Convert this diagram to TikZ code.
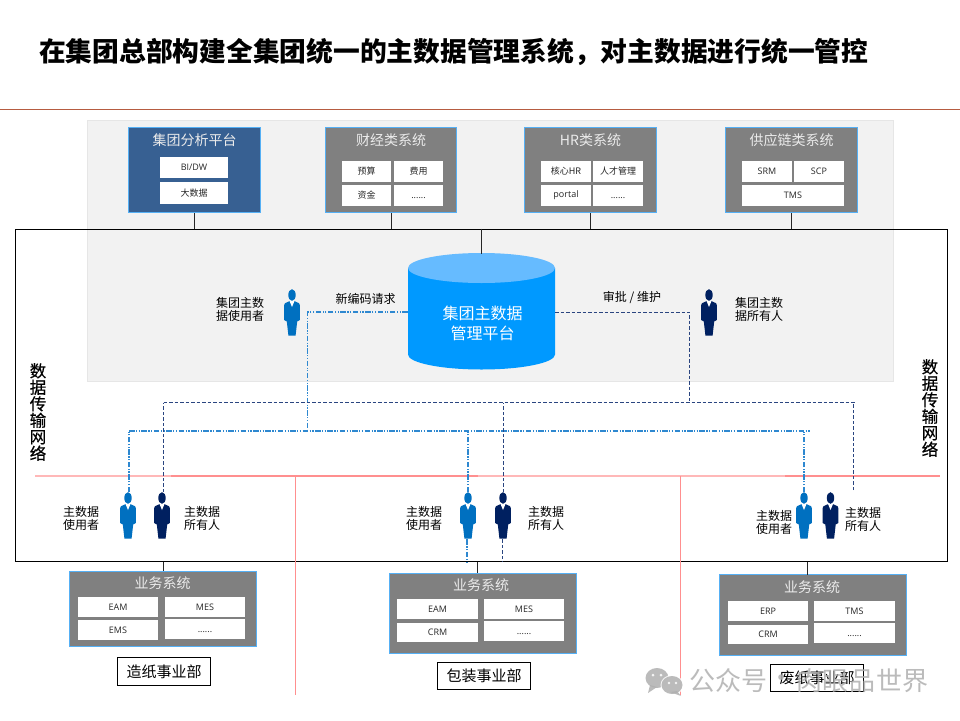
\documentclass[tikz,border=0pt]{standalone}
\usepackage{fontspec}
\setmainfont{Noto Sans CJK SC}
\newfontfamily\latinui{Open Sans}
\usetikzlibrary{calc}

\definecolor{panelgray}{HTML}{F2F2F2}
\definecolor{paneledge}{HTML}{E6E6E6}
\definecolor{boxgray}{HTML}{808080}
\definecolor{boxblue}{HTML}{376092}
\definecolor{boxedge}{HTML}{55B0F5}
\definecolor{dbbody}{HTML}{0099FF}
\definecolor{dbtop}{HTML}{66BBFF}
\definecolor{userblue}{HTML}{0070C0}
\definecolor{ownernavy}{HTML}{002060}
\definecolor{userline}{HTML}{2E88D0}
\definecolor{ownerline}{HTML}{2A4580}
\definecolor{divider}{HTML}{FF8F8F}
\definecolor{dividerpale}{HTML}{FFB8B8}
\definecolor{titlerule}{HTML}{C8502C}
\definecolor{markgray}{HTML}{B0B0B0}

\tikzset{
  x=1pt, y=-1pt,
  sysbox/.style={draw=boxedge, line width=1pt, fill=boxgray, inner sep=0pt},
  cellbox/.style={fill=white, inner sep=0pt, font=\fontsize{9}{11}\selectfont, text=black!85},
  systitle/.style={text=white!92!black, inner sep=0pt, font=\fontsize{14}{16}\selectfont},
  deptbox/.style={draw=black, line width=0.9pt, fill=white, inner sep=0pt, font=\fontsize{15}{18}\selectfont},
  plainlabel/.style={inner sep=0pt, align=center, font=\fontsize{12}{13.6}\selectfont},
  linklabel/.style={inner sep=0pt, font=\fontsize{12}{14}\selectfont},
  sidelabel/.style={inner sep=0pt, align=center, font=\fontsize{16.5}{16.5}\selectfont\addfontfeature{FakeBold=0.6}},
  trunk/.style={draw=black!85, line width=0.9pt},
  userlink/.style={draw=userline, line width=1.1pt, dash pattern=on 5.5pt off 1.5pt on 1.2pt off 1.5pt on 1.2pt off 1.5pt},
  ownerlink/.style={draw=ownerline, line width=1pt, dash pattern=on 3.5pt off 2pt},
  splitline/.style={draw=divider, line width=1.1pt},
  markfont/.style={inner sep=0pt, text=markgray, font=\fontsize{26}{28}\selectfont},
}

% Dotted filler entry, kept on the text baseline
\newcommand{\morecell}{\latinui\vphantom{A}......}

% A named rectangle given by its corners
\newcommand{\rectbox}[7]{%
  \pgfmathsetmacro\rbw{#5-#3}\pgfmathsetmacro\rbh{#6-#4}%
  \node[#2, minimum width=\rbw pt, minimum height=\rbh pt]
    (#1) at ({(#3+#5)/2},{(#4+#6)/2}) {#7};}

% A standing figure in a suit: name, centre x, top y, colour
\newcommand{\suited}[4]{%
  \node[minimum width=16pt, minimum height=47pt, inner sep=0pt, anchor=north] (#1) at (#2,#3) {};
  \begin{scope}[shift={(#2,#3)}]
    \fill[#4] (0,6) ellipse [x radius=3.7pt, y radius=5.8pt];
    \fill[#4] (-2.6,12.2) -- (2.6,12.2) -- (7,14.2) .. controls (7.6,14.6) and (7.8,15) .. (7.8,16)
      -- (7.8,31) -- (5.2,32.5) -- (3.6,46.5) -- (-3.6,46.5) -- (-5.2,32.5) -- (-7.8,31)
      -- (-7.8,16) .. controls (-7.8,15) and (-7.6,14.6) .. (-7,14.2) -- cycle;
    \fill[white] (-2.4,12.2) -- (2.4,12.2) -- (0,18) -- cycle;
  \end{scope}}

\begin{document}
\begin{tikzpicture}
\useasboundingbox (0,0) rectangle (960,720);
\fill[white] (0,0) rectangle (960,720);

% Heading
\node[anchor=west, inner sep=0pt] (heading) at (39,52)
  {\fontsize{26.75}{30}\selectfont\bfseries 在集团总部构建全集团统一的主数据管理系统，对主数据进行统一管控};
\coordinate (ruleL) at (0,109.5);
\coordinate (ruleR) at (960,109.5);
\draw[titlerule!75!gray, line width=0.8pt] (ruleL) -- (ruleR);

% Backdrop and transmission network frame
\draw[paneledge, fill=panelgray, line width=0.8pt] (87,120) rectangle (893,381);
\node[draw=black, line width=1pt, inner sep=0pt, minimum width=932pt, minimum height=332pt] (network) at (481,395) {};

% Business-unit dividers
\draw[dividerpale, line width=1.1pt] (35,476) -- (171,476);
\draw[splitline] (171,476) -- (478,476);
\draw[dividerpale, line width=1.1pt] (478,476) -- (785,476);
\draw[splitline] (785,476) -- (940,476);
\draw[splitline] (295.5,476) -- (295.5,695);
\draw[splitline] (680.5,476) -- (680.5,695);

% Upper application groups
\rectbox{bi}{sysbox, fill=boxblue}{128.5}{127.5}{260.5}{212.5}{}
\node[systitle] (biT) at (194.5,140) {集团分析平台};
\rectbox{biA}{cellbox}{160}{157}{228}{178}{\latinui BI/DW}
\rectbox{biB}{cellbox}{160}{182}{228}{204}{大数据}

\rectbox{fin}{sysbox}{325.5}{127.5}{456.5}{212.5}{}
\node[systitle] (finT) at (391,140) {财经类系统};
\rectbox{finA}{cellbox}{342}{161}{391}{182}{预算}
\rectbox{finB}{cellbox}{394}{161}{443}{182}{费用}
\rectbox{finC}{cellbox}{342}{185}{391}{206}{资金}
\rectbox{finD}{cellbox}{394}{185}{443}{206}{\morecell}

\rectbox{hr}{sysbox}{524.5}{127.5}{656.5}{212.5}{}
\node[systitle] (hrT) at (590.5,140) {HR类系统};
\rectbox{hrA}{cellbox}{541}{161}{591}{182}{核心HR}
\rectbox{hrB}{cellbox}{593}{161}{643}{182}{人才管理}
\rectbox{hrC}{cellbox}{541}{185}{591}{206}{\latinui portal}
\rectbox{hrD}{cellbox}{593}{185}{643}{206}{\morecell}

\rectbox{scm}{sysbox}{725.5}{127.5}{857.5}{212.5}{}
\node[systitle] (scmT) at (791.5,140) {供应链类系统};
\rectbox{scmA}{cellbox}{742}{161}{792}{182}{\latinui SRM}
\rectbox{scmB}{cellbox}{794}{161}{844}{182}{\latinui SCP}
\rectbox{scmC}{cellbox}{742}{185}{844}{206}{\latinui TMS}

% Group master data platform
\fill[dbbody] (408,268) -- (408,354.5) arc[start angle=180, end angle=360, x radius=73.5pt, y radius=15pt]
  -- (555,268) -- cycle;
\fill[dbtop] (481.5,268) ellipse [x radius=73.5pt, y radius=15pt];
\node[inner sep=0pt, minimum width=147pt, minimum height=116pt] (mdm) at (481.5,312) {};
\node[inner sep=0pt, align=center, text=white, font=\fontsize{16}{20}\selectfont] (mdmT) at (482.5,323) {集团主数据\\管理平台};

% Links from the groups down to the network
\draw[trunk] (bi.south) -- (bi.south |- network.north);
\draw[trunk] (fin.south) -- (fin.south |- network.north);
\draw[trunk] (hr.south) -- (hr.south |- network.north);
\draw[trunk] (scm.south) -- (scm.south |- network.north);
\coordinate (mdmTop) at (481.5,254);
\draw[trunk] (mdmTop |- network.north) -- (mdmTop);

% Figures
\suited{gUser}{292}{289}{userblue}
\suited{gOwner}{709}{289}{ownernavy}
\suited{uA}{128}{492}{userblue}
\suited{oA}{162}{492}{ownernavy}
\suited{uB}{468}{492}{userblue}
\suited{oB}{503}{492}{ownernavy}
\suited{uC}{804}{492}{userblue}
\suited{oC}{830.5}{492}{ownernavy}

% Master-data user path
\coordinate (uDrop) at (307.5,312);
\coordinate (uBusL) at (129,431);
\coordinate (uBusR) at (810,431);
\coordinate (uBelow) at (467,562);
\draw[userlink] (mdm.west) -- (uDrop) -- (uDrop |- uBusL);
\draw[userlink] (uBusL) -- (uBusR);
\draw[userlink] (uA.north -| uBusL) -- (uBusL);
\draw[userlink] (uB.north) -- (uB.north |- uBusL);
\draw[userlink] (uC.north) -- (uC.north |- uBusL);
\draw[userlink] (uB.south -| uBelow) -- (uBelow);

% Master-data owner path
\coordinate (oDrop) at (689.5,312);
\coordinate (oBusL) at (163.5,402.5);
\coordinate (oBusR) at (856,402.5);
\coordinate (oEnd) at (853,490);
\coordinate (oBelow) at (502,562);
\draw[ownerlink] (mdm.east) -- (oDrop) -- (oDrop |- oBusL);
\draw[ownerlink] (oBusL) -- (oBusR);
\draw[ownerlink] (oA.north -| oBusL) -- (oBusL);
\draw[ownerlink] (oB.north) -- (oB.north |- oBusL);
\draw[ownerlink] (oEnd) -- (oEnd |- oBusL);
\draw[ownerlink] (oB.south -| oBelow) -- (oBelow);

% Labels around the platform
\node[plainlabel] (gUserL) at (240,309.5) {集团主数\\据使用者};
\node[plainlabel] (gOwnerL) at (759,309.5) {集团主数\\据所有人};
\node[linklabel] (reqL) at (365.5,298.5) {新编码请求};
\node[linklabel] (apprL) at (632,297.5) {审批 / 维护};
\node[sidelabel] (sideL) at (38,412) {数\\据\\传\\输\\网\\络};
\node[sidelabel] (sideR) at (930,408) {数\\据\\传\\输\\网\\络};

\node[plainlabel] (uAL) at (81,518.5) {主数据\\使用者};
\node[plainlabel] (oAL) at (202,518.5) {主数据\\所有人};
\node[plainlabel] (uBL) at (424,518.5) {主数据\\使用者};
\node[plainlabel] (oBL) at (546,518.5) {主数据\\所有人};
\node[plainlabel] (uCL) at (774,522.5) {主数据\\使用者};
\node[plainlabel] (oCL) at (863,519.5) {主数据\\所有人};

% Business systems of each unit
\rectbox{sysA}{sysbox}{69}{571}{256}{646}{}
\node[systitle] (sysAT) at (162.5,583) {业务系统};
\rectbox{sysAa}{cellbox}{78}{597}{158}{617}{\latinui EAM}
\rectbox{sysAb}{cellbox}{165}{597}{245}{617}{\latinui MES}
\rectbox{sysAc}{cellbox}{78}{620}{158}{640}{\latinui EMS}
\rectbox{sysAd}{cellbox}{165}{619}{245}{639}{\morecell}

\rectbox{sysB}{sysbox}{389}{573}{576}{653}{}
\node[systitle] (sysBT) at (481,585.5) {业务系统};
\rectbox{sysBa}{cellbox}{397}{599}{478}{619}{\latinui EAM}
\rectbox{sysBb}{cellbox}{484}{599}{564}{619}{\latinui MES}
\rectbox{sysBc}{cellbox}{397}{623}{478}{642}{\latinui CRM}
\rectbox{sysBd}{cellbox}{484}{621}{564}{641}{\morecell}

\rectbox{sysC}{sysbox}{719}{574.5}{906}{655}{}
\node[systitle] (sysCT) at (812,587.5) {业务系统};
\rectbox{sysCa}{cellbox}{728}{601}{808}{621}{\latinui ERP}
\rectbox{sysCb}{cellbox}{814}{601}{895}{621}{\latinui TMS}
\rectbox{sysCc}{cellbox}{728}{625}{808}{644}{\latinui CRM}
\rectbox{sysCd}{cellbox}{814}{623}{895}{643}{\morecell}

\coordinate (tapA) at (163.5,571);
\coordinate (tapB) at (477.5,573);
\coordinate (tapC) at (807.5,574.5);
\draw[trunk] (tapA |- network.south) -- (tapA);
\draw[trunk] (tapB |- network.south) -- (tapB);
\draw[trunk] (tapC |- network.south) -- (tapC);

\rectbox{deptA}{deptbox}{117.5}{657.5}{210.5}{685.5}{造纸事业部}
\rectbox{deptB}{deptbox}{437.5}{662.5}{530.5}{689.5}{包装事业部}
\rectbox{deptC}{deptbox}{770.5}{664.5}{863.5}{691.5}{废纸事业部}

% Account mark in the corner
\begin{scope}[opacity=0.85]
  \fill[markgray] (657,678) ellipse [x radius=11.5pt, y radius=10pt];
  \fill[markgray] (650,685) -- (648,693) -- (657,687) -- cycle;
  \fill[white] (672,685) ellipse [x radius=11.5pt, y radius=10pt];
  \fill[markgray] (672,685) ellipse [x radius=10.5pt, y radius=9pt];
  \fill[markgray] (677,691) -- (681,696) -- (670,692) -- cycle;
  \fill[white] (653,675) circle (1.5pt) (661,675) circle (1.5pt) (669,683) circle (1.3pt) (676,683) circle (1.3pt);
  \node[markfont] (markA) at (728,681) {公众号};
  \node[markfont] (markB) at (781,681) {·};
  \node[markfont] (markC) at (862.5,681) {\addfontfeature{LetterSpace=2}肉眼品世界};
\end{scope}
\end{tikzpicture}
\end{document}
